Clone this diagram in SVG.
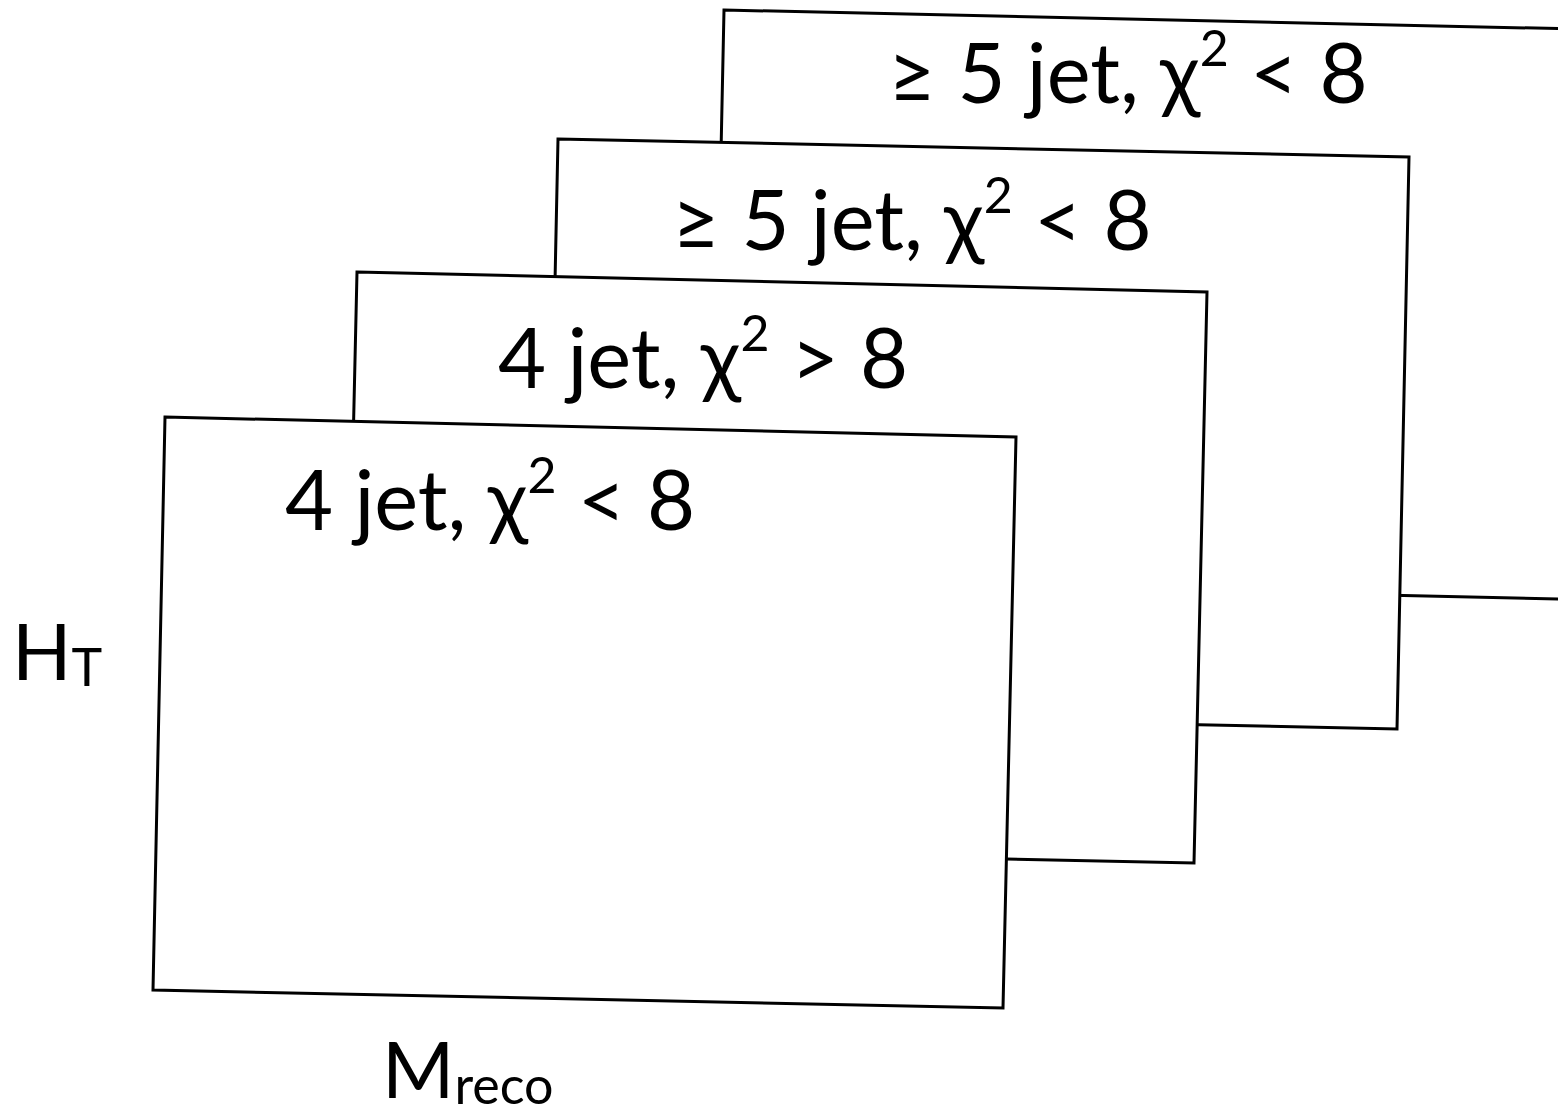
<svg xmlns="http://www.w3.org/2000/svg" width="1558" height="1114" viewBox="0 0 1558 1114">
<style>
.panel{fill:#fff;stroke:#000;stroke-width:3;stroke-linejoin:miter}
.lbl{font-family:Lato,"Open Sans","Liberation Sans",sans-serif;font-size:83px;fill:#000}
.ax{font-family:Lato,"Open Sans","Liberation Sans",sans-serif;font-size:78px;fill:#000}
.sub{font-size:52px}
.sup{font-size:50px}
</style>
<rect width="1558" height="1114" fill="#fff"/>
<g id="panel-ge5-back">
<polygon class="panel" points="724,10 1575,29 1563,599 712,580"/>
<text class="lbl" x="888" y="103">≥ 5 jet, χ<tspan class="sup" dy="-37">2</tspan><tspan dy="37"> &lt; 8</tspan></text>
</g>
<g id="panel-ge5">
<polygon class="panel" points="558,139 1409,157 1397,729 546,711"/>
<text class="lbl" x="672" y="250">≥ 5 jet, χ<tspan class="sup" dy="-37">2</tspan><tspan dy="37"> &lt; 8</tspan></text>
</g>
<g id="panel-4jet-gt">
<polygon class="panel" points="357,272 1207,292 1194,863 344,845"/>
<text class="lbl" x="498" y="388">4 jet, χ<tspan class="sup" dy="-37">2</tspan><tspan dy="37"> &gt; 8</tspan></text>
</g>
<g id="panel-4jet-lt">
<polygon class="panel" points="165,417 1016,437 1003,1008 153,990"/>
<text class="lbl" x="285" y="530">4 jet, χ<tspan class="sup" dy="-37">2</tspan><tspan dy="37"> &lt; 8</tspan></text>
</g>
<g id="axis-labels">
<text class="ax" x="12" y="680">H<tspan class="sub" dy="6">T</tspan></text>
<text class="ax" x="382" y="1098">M<tspan class="sub" dy="6">reco</tspan></text>
</g>
<g id="connectors"/>
</svg>
